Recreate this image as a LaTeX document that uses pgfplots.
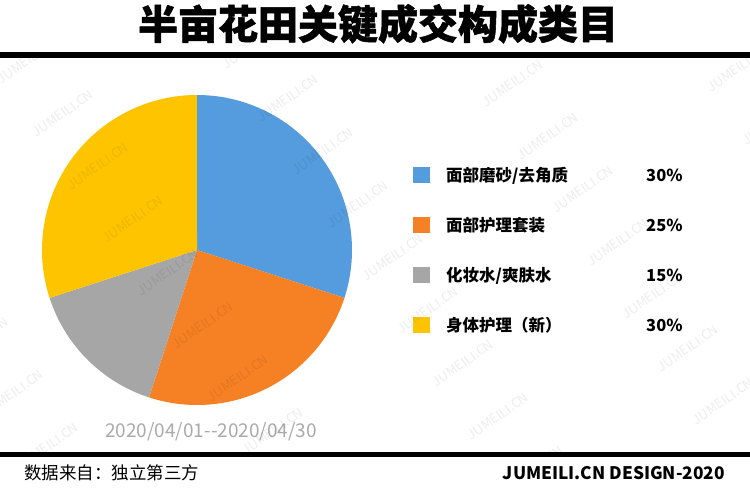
\documentclass[border=0pt]{standalone}
\usepackage{pgfplots}
\pgfplotsset{compat=1.18}
\usepackage{pgfplotstable}
\usepackage{fontspec}
\setmainfont{Noto Sans CJK SC}
\newfontfamily\titlefont[BoldFeatures={FakeBold=1.3}]{Noto Sans CJK SC}

\definecolor{pieblue}{RGB}{84,156,221}
\definecolor{pieorange}{RGB}{246,128,36}
\definecolor{piegray}{RGB}{166,166,166}
\definecolor{pieyellow}{RGB}{255,196,0}
\definecolor{datetxt}{RGB}{170,170,170}

% shares in percent, clockwise from 12 o'clock
\pgfplotstableread{
share
30
25
15
30
}\sharetable

\begin{document}
\begin{tikzpicture}
\pgfplotstablegetelem{0}{share}\of\sharetable \let\sA\pgfplotsretval
\pgfplotstablegetelem{1}{share}\of\sharetable \let\sB\pgfplotsretval
\pgfplotstablegetelem{2}{share}\of\sharetable \let\sC\pgfplotsretval
\pgfplotstablegetelem{3}{share}\of\sharetable \let\sD\pgfplotsretval
\pgfmathsetmacro\tot{\sA+\sB+\sC+\sD}
\pgfmathsetmacro\aA{0}
\pgfmathsetmacro\aB{\aA+360*\sA/\tot}
\pgfmathsetmacro\aC{\aB+360*\sB/\tot}
\pgfmathsetmacro\aD{\aC+360*\sC/\tot}
\pgfmathsetmacro\aE{\aD+360*\sD/\tot}

\begin{axis}[
  width=750pt, height=490pt, scale only axis,
  xmin=0, xmax=750, ymin=0, ymax=490, y dir=reverse,
  hide axis, clip=false,
]
\fill[white] (axis cs:0,0) rectangle (axis cs:750,490);

% pie, centre (197,250), radius 155
\addplot[draw=none, fill=pieblue, domain=\aA:\aB, samples=80]
  ({197+155*sin(x)}, {250-155*cos(x)}) -- (axis cs:197,250) -- cycle;
\addplot[draw=none, fill=pieorange, domain=\aB:\aC, samples=80]
  ({197+155*sin(x)}, {250-155*cos(x)}) -- (axis cs:197,250) -- cycle;
\addplot[draw=none, fill=piegray, domain=\aC:\aD, samples=60]
  ({197+155*sin(x)}, {250-155*cos(x)}) -- (axis cs:197,250) -- cycle;
\addplot[draw=none, fill=pieyellow, domain=\aD:\aE, samples=80]
  ({197+155*sin(x)}, {250-155*cos(x)}) -- (axis cs:197,250) -- cycle;

% title and rules
\node[anchor=base, inner sep=0pt, font=\titlefont\bfseries\fontsize{40}{42}\selectfont] at (axis cs:378,39) {半亩花田关键成交构成类目};
\fill[black] (axis cs:0,51.5) rectangle (axis cs:750,57.5);
\fill[black] (axis cs:0,451.5) rectangle (axis cs:750,457);

% legend
\fill[pieblue]   (axis cs:413,167) rectangle (axis cs:430,183);
\fill[pieorange] (axis cs:413,217) rectangle (axis cs:430,233);
\fill[piegray]   (axis cs:413,267) rectangle (axis cs:430,283);
\fill[pieyellow] (axis cs:413,317) rectangle (axis cs:430,333);
\begin{scope}[every node/.style={anchor=base west, inner sep=0pt, font=\bfseries\fontsize{16.5}{18}\selectfont}]
\node at (axis cs:446,181) {面部磨砂/去角质};
\node at (axis cs:446,231) {面部护理套装};
\node at (axis cs:446,281) {化妆水/爽肤水};
\node at (axis cs:446,331) {身体护理（新）};
\node at (axis cs:646,181) {30\%};
\node at (axis cs:646,231) {25\%};
\node at (axis cs:646,281) {15\%};
\node at (axis cs:646,331) {30\%};
\end{scope}

% date and footer
\node[anchor=base, inner sep=0pt, text=datetxt, font=\fontsize{19}{21}\selectfont] at (axis cs:211,437) {2020/04/01{-}{-}2020/04/30};
\node[anchor=base west, inner sep=0pt, font=\fontsize{17.5}{19}\selectfont] at (axis cs:24,479) {数据来自：独立第三方};
\node[anchor=base east, inner sep=0pt, font=\bfseries\fontsize{17.3}{19}\selectfont] at (axis cs:725,479) {JUMEILI.CN DESIGN-2020};
\end{axis}

% faint watermark (axis lower left sits at the origin, 1 unit = 1pt)
\begin{scope}
\clip (0pt,36pt) rectangle (750pt,436pt);
\foreach \i in {-1,...,3} {
  \foreach \j in {-3,...,8} {
    \node[rotate=35, text=black, opacity=0.07, font=\fontsize{13}{14}\selectfont]
      at ({(63+225*\i+35*\j)*1pt}, {(490-(113-15*\i+53*\j))*1pt}) {JUMEILI.CN};
  }
}
\end{scope}
\end{tikzpicture}
\end{document}
